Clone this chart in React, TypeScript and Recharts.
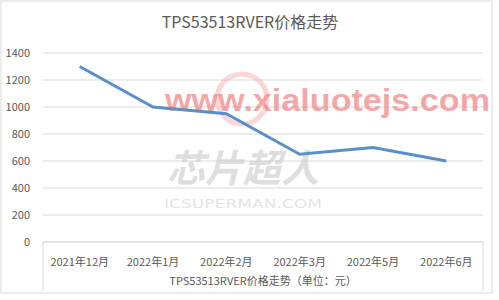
import { LineChart, Line, XAxis, YAxis, CartesianGrid } from 'recharts'

const months = ['2021年12月', '2022年1月', '2022年2月', '2022年3月', '2022年5月', '2022年6月']
const prices = [1300, 1000, 950, 650, 700, 600]
const yTicks = [0, 200, 400, 600, 800, 1000, 1200, 1400]

const data = months.map((m, i) => ({ month: m, price: prices[i] }))

const FONT = '"Noto Sans CJK SC", "Noto Sans", sans-serif'
const TEXT = '#595959'

// frame under the category labels plus the axis title
function AxisFrame(props: any) {
  const vb = props.viewBox || {}
  const { x, y, width } = vb
  return (
    <g>
      <line x1={x} y1={y} x2={x} y2={y + 49} stroke="#d9d9d9" />
      <line x1={x + width} y1={y} x2={x + width} y2={y + 49} stroke="#d9d9d9" />
      <text x={x + width / 2} y={y + 43} textAnchor="middle" fontSize={11} fill={TEXT} fontFamily={FONT}>
        TPS53513RVER价格走势（单位：元）
      </text>
    </g>
  )
}

export default function App() {
  return (
    <div style={{ position: 'absolute', left: 0, top: 0, width: 499, height: 300, background: '#fff' }}>
      <LineChart width={499} height={300} data={data} margin={{ top: 53, right: 16, bottom: 0, left: 0 }}>
        <rect x={1} y={1} width={491} height={292} fill="none" stroke="#d9d9d9" />
        <text x={250} y={28} textAnchor="middle" fontSize={16} fill={TEXT} fontFamily={FONT}>
          TPS53513RVER价格走势
        </text>
        <CartesianGrid vertical={false} stroke="#d9d9d9" />
        <XAxis
          dataKey="month"
          tick={{ fontSize: 11, fill: TEXT, fontFamily: FONT }}
          tickLine={false}
          axisLine={{ stroke: '#d9d9d9' }}
          tickMargin={10}
          height={58}
          interval={0}
          padding={{ left: 36.7, right: 36.7 }}
          label={<AxisFrame />}
        />
        <YAxis
          ticks={yTicks}
          domain={[0, 1400]}
          width={43}
          tick={{ fontSize: 11, fill: TEXT, fontFamily: FONT }}
          tickLine={false}
          axisLine={false}
          tickMargin={7}
        />
        <Line type="linear" dataKey="price" stroke="#5b8fc9" strokeWidth={3} dot={false} isAnimationActive={false} />
        <circle cx={242} cy={99} r={25} fill="none" stroke="#f5b5b5" strokeOpacity={0.55} strokeWidth={5} />
        <text x={165} y={111} fontSize={31} fontWeight="bold" fill="#f08a8a" fillOpacity={0.75}
          fontFamily='"Liberation Sans", sans-serif' textLength={325} lengthAdjust="spacingAndGlyphs">
          www.xialuotejs.com
        </text>
        <text x={243} y={182} textAnchor="middle" fontSize={38} fontWeight="bold" fontStyle="italic" fill="#d0d0d0" fillOpacity={0.7} fontFamily={FONT}>
          芯片超人
        </text>
        <text x={164} y={208} fontSize={13} fill="#dcdcdc" fillOpacity={0.8}
          fontFamily='"DejaVu Sans", sans-serif' textLength={158} lengthAdjust="spacingAndGlyphs">
          ICSUPERMAN.COM
        </text>
      </LineChart>
    </div>
  )
}
